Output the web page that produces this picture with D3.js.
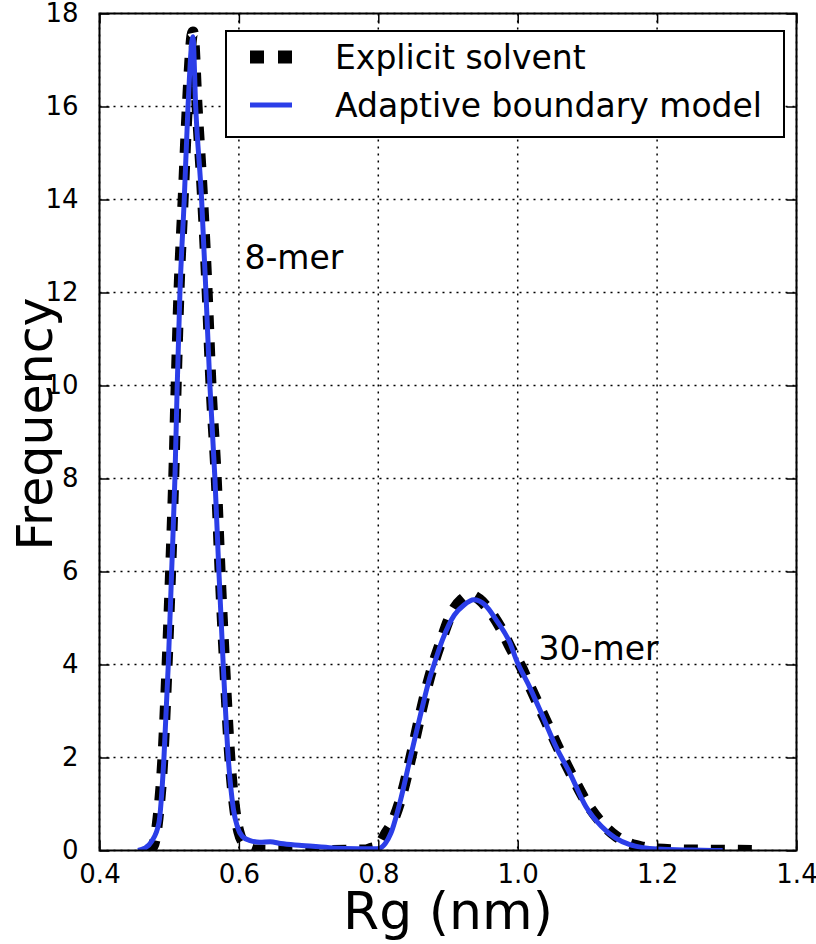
<!DOCTYPE html>
<html>
<head>
<meta charset="utf-8">
<script src="https://cdn.jsdelivr.net/npm/d3@7"></script>
<style>
  body { margin: 0; background: #fff; }
  svg { display: block; font-family: "DejaVu Sans", sans-serif; }
  .grid line { stroke: #000; stroke-width: 1.5; stroke-dasharray: 2,5; }
</style>
</head>
<body>
<svg id="chart" width="816" height="944"></svg>
<script>
// Explicit solvent (black dashed)
var explicitRg = [0.468, 0.477, 0.484, 0.491, 0.497, 0.502, 0.5065, 0.510, 0.514, 0.520, 0.526, 0.534,
  0.540, 0.548, 0.5545, 0.560, 0.5675, 0.573, 0.5795, 0.587, 0.594, 0.600, 0.607, 0.615, 0.625, 0.70,
  0.78, 0.79, 0.80, 0.81, 0.82, 0.832, 0.846, 0.86, 0.874, 0.89, 0.905, 0.92, 0.932, 0.945, 0.96, 0.975,
  0.99, 1.005, 1.02, 1.04, 1.06, 1.08, 1.10, 1.12, 1.14, 1.16, 1.18, 1.20, 1.25, 1.30, 1.354];
var explicitFreq = [0, 0.1, 0.7, 2, 4, 6, 8, 10, 12, 14, 16, 17.6,
  16, 14, 12, 10, 8, 6, 4, 2, 0.9, 0.4, 0.15, 0.05, 0.01, 0,
  0.01, 0.05, 0.1, 0.35, 0.6, 1.1, 1.95, 2.9, 3.75, 4.5, 5.1, 5.4, 5.5, 5.4, 5.15, 4.8,
  4.35, 3.95, 3.45, 2.8, 2.15, 1.55, 1.0, 0.6, 0.32, 0.15, 0.07, 0.03, 0.01, 0.005, 0];

// Adaptive boundary model (blue)
var adaptiveRg = [0.455, 0.465, 0.475, 0.4853, 0.4925, 0.4987, 0.5035, 0.5082, 0.5115, 0.5154, 0.5216, 0.527, 0.534,
  0.538, 0.5465, 0.5527, 0.5584, 0.5656, 0.5713, 0.5775, 0.5847, 0.592, 0.598, 0.605, 0.615, 0.63, 0.645,
  0.66, 0.69, 0.73, 0.77, 0.80, 0.81, 0.818, 0.832, 0.846, 0.861, 0.873, 0.88, 0.892, 0.909, 0.923, 0.937,
  0.953, 0.969, 0.989, 0.998, 1.017, 1.036, 1.055, 1.075, 1.098, 1.12, 1.14, 1.16, 1.18, 1.20, 1.25, 1.294];
var adaptiveFreq = [0, 0.05, 0.2, 0.6, 2, 4, 6, 8, 10, 12, 14, 16, 17.5,
  16, 14, 12, 10, 8, 6, 4, 2, 0.9, 0.5, 0.3, 0.22, 0.18, 0.19,
  0.15, 0.11, 0.06, 0.04, 0.04, 0.15, 0.37, 1.09, 2.0, 2.95, 3.67, 4.0, 4.53, 5.06, 5.28, 5.39,
  5.28, 4.96, 4.46, 4.1, 3.52, 2.88, 2.23, 1.66, 0.94, 0.52, 0.27, 0.13, 0.06, 0.03, 0.01, 0];

var xTicks = [0.4, 0.6, 0.8, 1.0, 1.2, 1.4];
var yTicks = [0, 2, 4, 6, 8, 10, 12, 14, 16, 18];
var seriesNames = ["Explicit solvent", "Adaptive boundary model"];
var notes = [{ text: "8-mer", rg: 0.608, freq: 12.5 }, { text: "30-mer", rg: 1.03, freq: 4.1 }];

var box = { left: 99.5, right: 796.5, top: 13.5, bottom: 850.5 };
var blue = "#2b3ee8";

var svg = d3.select("#chart");

var x = d3.scaleLinear().domain([0.4, 1.4]).range([box.left, box.right]);
var y = d3.scaleLinear().domain([0, 18]).range([box.bottom, box.top]);

svg.append("defs").append("clipPath").attr("id", "plotclip")
  .append("rect").attr("x", box.left).attr("y", box.top)
  .attr("width", box.right - box.left).attr("height", box.bottom - box.top);

// grid
var grid = svg.append("g").attr("class", "grid");
grid.selectAll(".gx").data(xTicks).enter().append("line")
  .attr("x1", function(d) { return x(d); }).attr("x2", function(d) { return x(d); })
  .attr("y1", box.top).attr("y2", box.bottom);
grid.selectAll(".gy").data(yTicks).enter().append("line")
  .attr("x1", box.left).attr("x2", box.right)
  .attr("y1", function(d) { return y(d); }).attr("y2", function(d) { return y(d); });

var line = d3.line()
  .x(function(d) { return x(d[0]); })
  .y(function(d) { return y(d[1]); })
  .curve(d3.curveMonotoneX);

var plot = svg.append("g").attr("clip-path", "url(#plotclip)");

plot.append("path")
  .datum(d3.zip(explicitRg, explicitFreq))
  .attr("d", line)
  .attr("fill", "none")
  .attr("stroke", "#000")
  .attr("stroke-width", 11)
  .attr("stroke-dasharray", "14,13");

plot.append("path")
  .datum(d3.zip(adaptiveRg, adaptiveFreq))
  .attr("d", line)
  .attr("fill", "none")
  .attr("stroke", blue)
  .attr("stroke-width", 5)
  .attr("stroke-linejoin", "round");

// axes: inward ticks on all four sides
var tickLen = 10;
svg.append("g").attr("transform", "translate(0," + box.bottom + ")")
  .call(d3.axisBottom(x).tickValues(xTicks).tickSizeInner(-tickLen).tickSizeOuter(0).tickPadding(14).tickFormat(d3.format(".1f")));
svg.append("g").attr("transform", "translate(0," + box.top + ")")
  .call(d3.axisTop(x).tickValues(xTicks).tickSizeInner(-tickLen).tickSizeOuter(0).tickFormat(""));
svg.append("g").attr("transform", "translate(" + box.left + ",0)")
  .call(d3.axisLeft(y).tickValues(yTicks).tickSizeInner(-tickLen).tickSizeOuter(0).tickPadding(21).tickFormat(d3.format("d")));
svg.append("g").attr("transform", "translate(" + box.right + ",0)")
  .call(d3.axisRight(y).tickValues(yTicks).tickSizeInner(-tickLen).tickSizeOuter(0).tickFormat(""));

svg.selectAll(".domain").remove();
svg.selectAll(".tick line").attr("stroke", "#000").attr("stroke-width", 1.5);
svg.selectAll(".tick text").attr("fill", "#000").attr("font-size", 26).attr("font-family", "DejaVu Sans");

svg.append("rect")
  .attr("x", box.left).attr("y", box.top)
  .attr("width", box.right - box.left).attr("height", box.bottom - box.top)
  .attr("fill", "none").attr("stroke", "#000").attr("stroke-width", 2);

// axis titles
svg.append("text")
  .attr("x", (box.left + box.right) / 2).attr("y", 929)
  .attr("text-anchor", "middle").attr("font-size", 52)
  .text("Rg (nm)");
svg.append("text")
  .attr("transform", "translate(52,424) rotate(-90)")
  .attr("text-anchor", "middle").attr("font-size", 49)
  .text("Frequency");

// annotations
svg.selectAll(".note").data(notes).enter().append("text")
  .attr("x", function(d) { return x(d.rg); })
  .attr("y", function(d) { return y(d.freq); })
  .attr("font-size", 33)
  .text(function(d) { return d.text; });

// legend
var legend = svg.append("g");
legend.append("rect")
  .attr("x", 226).attr("y", 31).attr("width", 558).attr("height", 106)
  .attr("fill", "#fff").attr("stroke", "#000").attr("stroke-width", 2);
var rows = legend.selectAll(".row").data(seriesNames).enter().append("g")
  .attr("transform", function(d, i) { return "translate(0," + (57 + i * 48) + ")"; });
rows.append("line")
  .attr("x1", 250).attr("x2", 292).attr("y1", 0).attr("y2", 0)
  .attr("stroke", function(d, i) { return i === 0 ? "#000" : blue; })
  .attr("stroke-width", function(d, i) { return i === 0 ? 13 : 5; })
  .attr("stroke-dasharray", function(d, i) { return i === 0 ? "14,14" : null; });
rows.append("text")
  .attr("x", 335).attr("y", 12)
  .attr("font-size", 33)
  .text(function(d) { return d; });
</script>
</body>
</html>
